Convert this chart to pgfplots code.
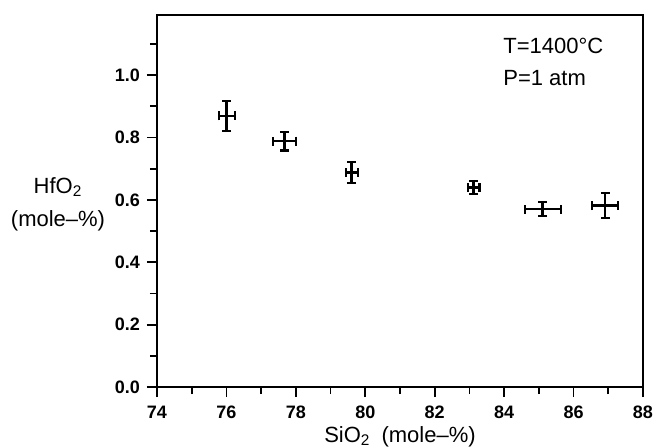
\documentclass[border=0pt]{standalone}
\usepackage{fontspec}
\setmainfont{Liberation Sans}
\usepackage{pgfplots}
\pgfplotsset{compat=1.18}
\pgfplotstableread{
x      y      ex     ey
76.01  0.869  0.23   0.048
77.67  0.788  0.33   0.030
79.61  0.687  0.17   0.034
83.12  0.639  0.17   0.021
85.11  0.570  0.52   0.022
86.91  0.581  0.375  0.040
}\datatable
\begin{document}
\begin{tikzpicture}[x=1pt,y=1pt]
\fill[white] (-78.5,-30) rectangle (249,193.5);
\path[use as bounding box] (-78.5,-30) rectangle (249,193.5);
\begin{axis}[
  at={(0,0)}, anchor=south west,
  scale only axis, width=243pt, height=186pt,
  xmin=74, xmax=88, ymin=0, ymax=1.1923,
  axis lines=box,
  xtick={74,76,78,80,82,84,86,88},
  minor xtick={75,77,79,81,83,85,87},
  ytick={0,0.2,0.4,0.6,0.8,1.0},
  minor ytick={0.1,0.3,0.5,0.7,0.9,1.1},
  tick pos=left, tick align=outside,
  major tick length=5pt, minor tick length=3.5pt,
  axis line style={line width=1.2pt, black},
  every tick/.style={line width=0.9pt, black},
  /pgf/number format/assume math mode=true,
  ticklabel style={font=\fontsize{9}{10}\selectfont\bfseries},
  xticklabel style={yshift=-1pt},
  yticklabel style={/pgf/number format/.cd, fixed, fixed zerofill, precision=1},
  xticklabel style={/pgf/number format/.cd, fixed, precision=0},
  clip=false,
]
\addplot[draw=none, mark=none,
  error bars/.cd, x dir=both, x explicit, y dir=both, y explicit,
  error bar style={draw=black, line width=1.3pt},
  error mark options={draw=black, rotate=90, mark size=2.2pt, line width=1.1pt}]
  table[x=x, y=y, x error=ex, y error=ey]{\datatable};
\end{axis}
\draw[line width=1.2pt, black] (0,0) rectangle (243,186);
\begin{scope}[every node/.style={font=\fontsize{11}{13}\selectfont, inner sep=0pt}]
\node[anchor=base west] at (173,167) {T=1400°C};
\node[anchor=base west] at (173,151) {P=1 atm};
\node[anchor=base] at (-49.5,97) {HfO\textsubscript{2}};
\node[anchor=base] at (-49.5,80.5) {(mole–\%)};
\node[anchor=base] at (121.5,-27.5) {SiO\textsubscript{2}\enspace(mole–\%)};
\end{scope}
\end{tikzpicture}
\end{document}
